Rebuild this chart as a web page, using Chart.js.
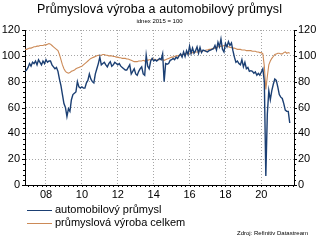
<!DOCTYPE html>
<html>
<head>
<meta charset="utf-8">
<script src="https://cdn.jsdelivr.net/npm/chart.js@4"></script>
<style>
  html, body { margin: 0; padding: 0; background: #fff; }
  #wrap { position: relative; width: 319px; height: 240px; overflow: hidden; font-family: "Liberation Sans", Arial, sans-serif; }
  #chart { position: absolute; left: 0; top: 0; }
  .title { position: absolute; left: 0; width: 319px; text-align: center; top: 2px; font-size: 12.5px; letter-spacing: 0.1px; color: #000; }
  .subtitle { position: absolute; left: 0; width: 319px; text-align: center; top: 18px; font-size: 6px; color: #000; }
  .legend { position: absolute; left: 27px; font-size: 11px; color: #000; line-height: 13px; }
  .legend span.line { display: inline-block; width: 25px; height: 0; border-top: 1px solid; vertical-align: middle; margin-right: 3px; }
  .source { position: absolute; right: 11px; top: 230px; font-size: 6px; color: #000; }
</style>
</head>
<body>
<div id="wrap">
  <canvas id="chart" width="319" height="240"></canvas>
  <div class="title">Průmyslová výroba a automobilový průmysl</div>
  <div class="subtitle">idnex 2015 = 100</div>
  <div class="legend" style="top: 203px;"><span class="line" style="border-color:#1b3f73"></span>automobilový průmysl</div>
  <div class="legend" style="top: 216px;"><span class="line" style="border-color:#cc8a57"></span>průmyslová výroba celkem</div>
  <div class="source">Zdroj: Refinitiv Datastream</div>
</div>
<script>
// monthly data, first point Nov 2006
const startYear = 2006;
const startMonth = 11;

const seriesNames = ["automobilový průmysl", "průmyslová výroba celkem"];

const autoIndex = [
  88, 89,
  91, 94, 92, 95, 94, 96, 93, 97, 95, 93, 96, 94,
  97, 95, 96, 96, 93, 91.5, 90, 91, 88, 82, 77, 70,
  63, 60, 53, 59, 57, 66, 70, 71, 72, 80, 76, 75,
  76, 75, 75, 79, 81, 86, 82, 80, 79, 86, 90, 94,
  99, 93, 94, 95, 93, 91.5, 94, 95.5, 92, 93, 95, 94,
  93, 94, 92, 91, 90, 89, 89, 91, 93, 86, 88, 90,
  86, 85, 88, 90, 91.5, 86, 85, 100.5, 92, 90, 96, 98,
  96, 97, 96, 97, 98, 97, 101.5, 80, 94, 93.5, 94, 96.5,
  97, 98, 97, 99, 98, 100, 101.5, 99, 103, 99.5, 104, 101,
  107.5, 102, 106, 102, 104, 107, 102, 106.5, 102.5, 104.5, 104, 103.5,
  103, 104, 104.5, 105, 105.5, 108, 104.5, 110.5, 107, 113, 105, 103,
  109.5, 107, 111, 108, 110, 104, 99, 95, 96, 94, 93, 97,
  91.5, 95, 90, 91, 88, 88.5, 88, 86.5, 87.5, 85, 86.5, 85,
  87.5, 90, 80, 7, 55, 73, 66, 73, 78, 82, 81, 76,
  70, 68, 67, 63, 58, 57, 57, 48
];

const industryIndex = [
  105, 105,
  105.5, 106, 106, 106.5, 107, 107, 107.5, 107.5, 108, 108, 108, 108.5,
  108.5, 109, 109.5, 109, 108, 107, 106, 105, 104, 101, 97, 93,
  90, 88, 87, 86.5, 87, 88, 88.5, 89, 90, 90.5, 91, 91.5,
  92, 93, 94, 95, 96, 97, 98, 98.5, 99, 99.5, 100, 100.5,
  100.5, 100.5, 101, 101, 100.5, 100.5, 100, 100, 100, 99.5, 99.5, 99,
  99, 98.5, 98.5, 98, 98, 98, 97.5, 97.5, 97, 96.5, 96, 95.5,
  95.5, 95.5, 96, 96, 96, 96.5, 96, 97, 96.5, 97, 97, 97.5,
  97.5, 97, 96.5, 97, 97, 97.5, 97, 96.5, 97, 97.5, 98, 98.5,
  99, 99, 99.5, 100, 100, 100.5, 100.5, 101, 101, 101.5, 101.5, 102,
  102, 102, 102.5, 102.5, 103, 103, 103, 103.5, 103.5, 104, 104, 104.5,
  104.5, 105, 105, 105.5, 106, 106, 106.5, 107, 107, 107.5, 107.5, 108,
  108, 107.5, 107, 106.5, 106.5, 106, 106, 105.5, 105, 105, 105, 104.5,
  104.5, 104.5, 104, 104, 104, 104, 103.5, 103.5, 103.5, 103, 103, 102.5,
  102.5, 101.5, 92, 74, 84, 93, 96, 98, 99.5, 101, 101.5, 102,
  102, 101.5, 101.5, 102.5, 103, 102, 102.5, 102
];

const xTickYears = [2008, 2010, 2012, 2014, 2016, 2018, 2020];
const yTicks = [0, 20, 40, 60, 80, 100, 120];

const colors = {
  auto: "#1b3f73",
  industry: "#cc8a57",
  grid: "#a6a6a6",
  axis: "#000000",
};

const toPoints = (values) =>
  values.map((v, i) => ({
    x: startYear + (startMonth - 1 + i) / 12,
    y: v,
  }));

const minorTicks = {
  id: "minorTicks",
  afterDraw(chart) {
    const { ctx, chartArea } = chart;
    const x = chart.scales.x;
    const y = chart.scales.y;
    ctx.save();
    ctx.strokeStyle = colors.axis;
    ctx.lineWidth = 1;
    ctx.beginPath();
    for (let v = 0; v <= 120; v += 4) {
      const py = Math.round(y.getPixelForValue(v)) + 0.5;
      const len = v % 20 === 0 ? 3 : 2;
      ctx.moveTo(chartArea.left - len, py);
      ctx.lineTo(chartArea.left, py);
      ctx.moveTo(chartArea.right, py);
      ctx.lineTo(chartArea.right + len, py);
    }
    for (let t = 2007; t <= 2021.75; t += 0.25) {
      const px = Math.round(x.getPixelForValue(t)) + 0.5;
      ctx.moveTo(px, chartArea.bottom);
      ctx.lineTo(px, chartArea.bottom + 2);
    }
    ctx.stroke();
    ctx.restore();
  },
};

new Chart(document.getElementById("chart").getContext("2d"), {
  type: "line",
  data: {
    datasets: [
      {
        label: seriesNames[0],
        data: toPoints(autoIndex),
        borderColor: colors.auto,
        borderWidth: 1.4,
        pointRadius: 0,
        tension: 0,
        yAxisID: "y",
      },
      {
        label: seriesNames[1],
        data: toPoints(industryIndex),
        borderColor: colors.industry,
        borderWidth: 1.1,
        pointRadius: 0,
        tension: 0,
        yAxisID: "y",
      },
    ],
  },
  options: {
    responsive: false,
    animation: false,
    layout: { padding: { top: 30, bottom: 40, left: 0, right: 0 } },
    plugins: {
      legend: { display: false },
      tooltip: { enabled: false },
    },
    scales: {
      x: {
        type: "linear",
        min: 2006.83,
        max: 2021.82,
        afterBuildTicks: (axis) => {
          axis.ticks = xTickYears.map((v) => ({ value: v }));
        },
        afterFit: (axis) => {
          axis.height = 15;
        },
        grid: { color: colors.grid, drawTicks: false },
        border: { color: colors.axis, width: 1, dash: [1, 2] },
        ticks: {
          padding: 3,
          maxRotation: 0,
          color: "#000",
          font: { family: "Liberation Sans", size: 11 },
          callback: (v) => String(v).slice(2),
        },
      },
      y: {
        position: "left",
        min: 0,
        max: 120,
        afterBuildTicks: (axis) => {
          axis.ticks = yTicks.map((v) => ({ value: v }));
        },
        afterFit: (axis) => {
          axis.width = 25;
        },
        grid: { color: colors.grid, drawTicks: false },
        border: { color: colors.axis, width: 1, dash: [1, 2] },
        ticks: {
          padding: 5,
          color: "#000",
          font: { family: "Liberation Sans", size: 11 },
        },
      },
      y2: {
        position: "right",
        min: 0,
        max: 120,
        afterBuildTicks: (axis) => {
          axis.ticks = yTicks.map((v) => ({ value: v }));
        },
        afterFit: (axis) => {
          axis.width = 25;
        },
        grid: { drawOnChartArea: false, drawTicks: false },
        border: { color: colors.axis, width: 1 },
        ticks: {
          padding: 4,
          color: "#000",
          font: { family: "Liberation Sans", size: 11 },
        },
      },
    },
  },
  plugins: [minorTicks],
});
</script>
</body>
</html>
